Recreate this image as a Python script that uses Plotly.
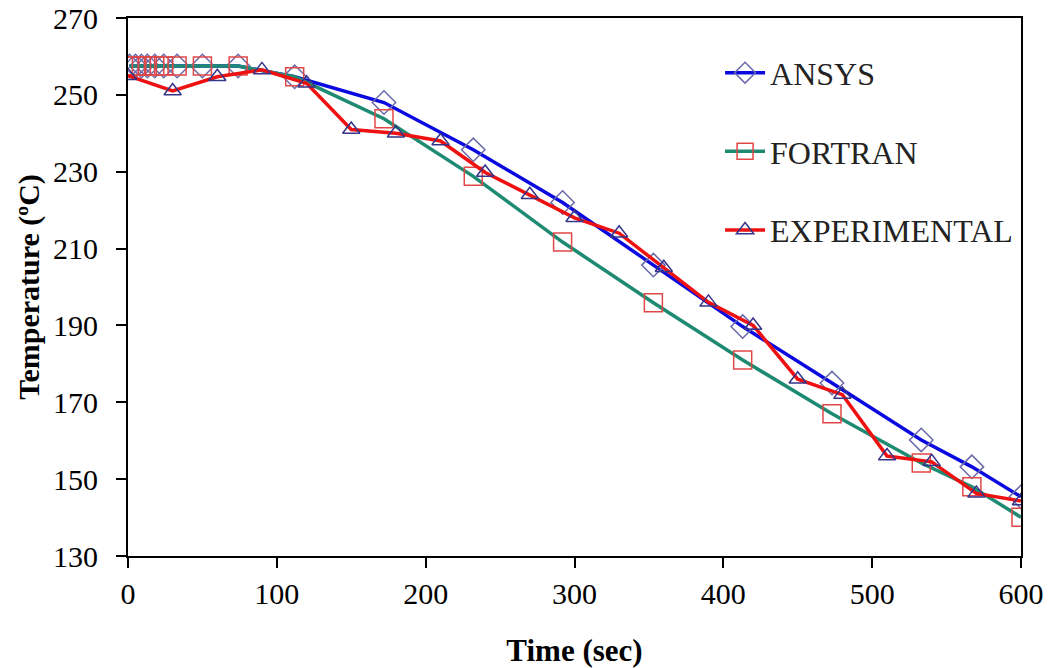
import plotly.graph_objects as go

# ---- data ----
ansys_t = [1, 5, 9, 13, 18, 24, 33, 50, 74, 112, 172, 232, 292, 353, 413, 473, 533, 567, 600]
ansys_T = [257.5, 257.5, 257.5, 257.5, 257.5, 257.5, 257.5, 257.5, 257.5, 254.7, 248, 235.7, 222, 205.7, 189.7, 175, 160.2, 153.2, 145.4]

fortran_t = [1, 5, 9, 13, 18, 24, 33, 50, 74, 112, 172, 232, 292, 353, 413, 473, 533, 567, 600]
fortran_T = [257.5, 257.5, 257.5, 257.5, 257.5, 257.5, 257.5, 257.5, 257.5, 254.7, 243.8, 228.8, 211.7, 195.9, 181, 167, 154.2, 148, 140.1]

exp_t = [0, 30, 60, 90, 120, 150, 180, 210, 240, 270, 300, 330, 360, 390, 420, 450, 480, 510, 540, 570, 600]
exp_T = [255, 251, 254.7, 256.5, 253, 241, 240, 238, 229.8, 224, 218, 214, 205, 196, 190, 176, 172, 156, 154.5, 146.3, 144.3]

x_ticks = [0, 100, 200, 300, 400, 500, 600]
y_ticks = [130, 150, 170, 190, 210, 230, 250, 270]

FONT = "Liberation Serif"

fig = go.Figure()
fig.add_trace(go.Scatter(
    x=ansys_t, y=ansys_T, name="ANSYS", legendgroup="a", mode="lines+markers",
    line=dict(color="#0a0ae0", width=3.5),
    marker=dict(symbol="diamond-open", size=18, color="#6a6aaa", line=dict(width=1.5, color="#6a6aaa"))))
fig.add_trace(go.Scatter(
    x=fortran_t, y=fortran_T, name="FORTRAN", legendgroup="f", mode="lines+markers",
    line=dict(color="#1e8a72", width=3.5),
    marker=dict(symbol="square-open", size=18, color="#e04848", line=dict(width=1.5, color="#e04848"))))
fig.add_trace(go.Scatter(
    x=exp_t, y=exp_T, name="EXPERIMENTAL", legendgroup="e", mode="lines+markers",
    line=dict(color="#ee1111", width=3.5),
    marker=dict(symbol="triangle-up-open", size=15, color="#35358a", line=dict(width=1.5, color="#35358a"))))

fig.update_layout(
    width=1048, height=668,
    margin=dict(l=128, r=27, t=18, b=112),
    plot_bgcolor="white", paper_bgcolor="white",
    font=dict(family=FONT, color="black", size=30),
    showlegend=True,
    legend=dict(x=0.663, y=0.949, xanchor="left", yanchor="top",
                font=dict(family=FONT, size=32, color="#222"),
                tracegroupgap=34, bgcolor="rgba(0,0,0,0)", traceorder="grouped",
                itemwidth=40),
    xaxis=dict(range=[0, 600], tickvals=x_ticks, showgrid=False, zeroline=False,
               showline=True, linecolor="black", linewidth=2, mirror=True,
               ticks="outside", ticklen=10, tickwidth=1.5, tickcolor="black",
               tickfont=dict(family=FONT, size=30), automargin=False,
               ticklabeloverflow="allow",
               title=dict(text="<b>Time (sec)</b>", font=dict(family=FONT, size=31), standoff=30)),
    yaxis=dict(range=[130, 270], tickvals=y_ticks, showgrid=False, zeroline=False,
               showline=True, linecolor="black", linewidth=2, mirror=True,
               ticks="outside", ticklen=10, tickwidth=1.5, tickcolor="black",
               tickfont=dict(family=FONT, size=30), automargin=False, ticklabelstandoff=12,
               ticklabeloverflow="allow",
               title=dict(text="<b>Temperature (ºC)</b>", font=dict(family=FONT, size=30), standoff=5)),
)

# remove the default 8px page margin so the figure sits at the window's top-left corner
fig.write_html("out.html", config={"displayModeBar": False},
               post_script="document.body.style.margin='0';")
